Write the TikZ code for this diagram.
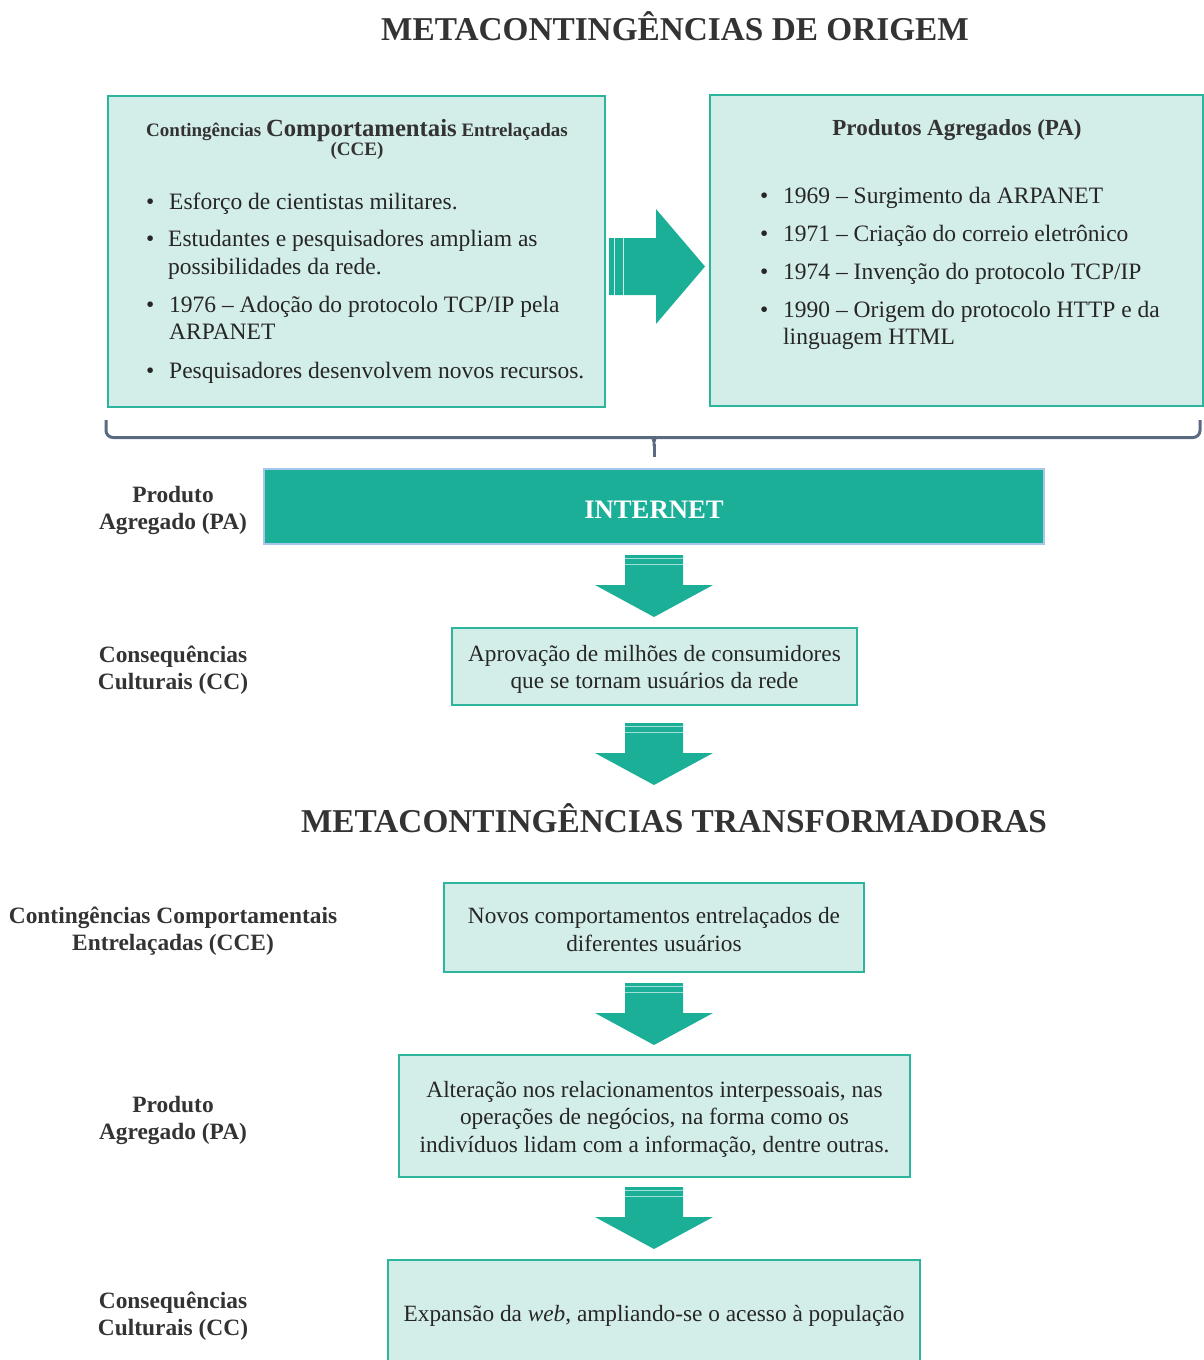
\documentclass[tikz,border=0pt]{standalone}
\usepackage{fontspec}
\setmainfont{Liberation Serif}
\definecolor{tealA}{HTML}{1BAF98}
\definecolor{lightfill}{HTML}{D3EDE9}
\definecolor{boxborder}{HTML}{2DB49C}
\definecolor{txt}{HTML}{262626}
\definecolor{ttl}{HTML}{333333}
\definecolor{bracecol}{HTML}{5A6A80}
\definecolor{inetborder}{HTML}{A9C5EC}
\newcommand\myDownArrow[2]{%
  \fill[tealA] (#1-29,#2) -- (#1+29,#2) -- (#1+29,#2+30) -- (#1+59,#2+30) -- (#1,#2+62) -- (#1-59,#2+30) -- (#1-29,#2+30) -- cycle;
  \draw[white, opacity=0.6, line width=0.8] (#1-29,#2+3) -- (#1+29,#2+3);
  \draw[white, opacity=0.6, line width=0.8] (#1-29,#2+9) -- (#1+29,#2+9);
}
\begin{document}
\begin{tikzpicture}[x=1pt,y=-1pt,
  lbox/.style={draw=boxborder, fill=lightfill, line width=1.8, inner sep=0},
  body/.style={font=\fontsize{23.5}{27}\selectfont, text=txt, align=left, inner sep=0},
  boxlbl/.style={font=\fontsize{23.3}{27.5}\selectfont, text=txt, align=center, inner sep=0},
  sidelabel/.style={font=\bfseries\fontsize{23.4}{27}\selectfont, text=ttl, align=center, inner sep=0},
  bigtitle/.style={font=\bfseries\fontsize{33.3}{38}\selectfont, text=ttl, inner sep=0},
  bul/.style={font=\fontsize{23.5}{27}\selectfont, text=txt, inner sep=0, anchor=base west}
]
\useasboundingbox (0,0) rectangle (1203,1360);

% Titles
\node[bigtitle] (t1) at (675,26) {METACONTINGÊNCIAS DE ORIGEM};
\node[bigtitle] (t2) at (674,818) {METACONTINGÊNCIAS TRANSFORMADORAS};

% Top boxes
\node[lbox, minimum width=497, minimum height=311] (cce) at (356.5,251.5) {};
\node[lbox, minimum width=493, minimum height=311] (pa) at (956.5,250.5) {};

\node[font=\bfseries, text=ttl, align=center, inner sep=0] (cceh) at (357,139.5)
  {\fontsize{19}{25}\selectfont Contingências {\fontsize{24.7}{25}\selectfont Comportamentais} Entrelaçadas\\\fontsize{19}{25}\selectfont (CCE)};

\node[bul] (lb1) at (146,209) {•};
\node[body, anchor=base west] (l1) at (169,209) {Esforço de cientistas militares.};
\node[bul] (lb2) at (146,246) {•};
\node[body, anchor=base west, font=\fontsize{23.5}{28}\selectfont] (l2) at (168,274) {Estudantes e pesquisadores ampliam as\\possibilidades da rede.};
\node[bul] (lb3) at (146,312) {•};
\node[body, anchor=base west] (l3) at (169,339) {1976 – Adoção do protocolo TCP/IP pela\\ARPANET};
\node[bul] (lb4) at (146,378) {•};
\node[body, anchor=base west] (l4) at (169,378) {Pesquisadores desenvolvem novos recursos.};

\node[font=\bfseries\fontsize{23}{27}\selectfont, text=ttl, inner sep=0] (pah) at (957,130) {Produtos Agregados (PA)};
\node[bul] (rb1) at (760,203) {•};
\node[body, anchor=base west] (r1) at (783,203) {1969 – Surgimento da ARPANET};
\node[bul] (rb2) at (760,241) {•};
\node[body, anchor=base west] (r2) at (783,241) {1971 – Criação do correio eletrônico};
\node[bul] (rb3) at (760,279) {•};
\node[body, anchor=base west] (r3) at (783,279) {1974 – Invenção do protocolo TCP/IP};
\node[bul] (rb4) at (760,317) {•};
\node[body, anchor=base west] (r4) at (783,344) {1990 – Origem do protocolo HTTP e da\\linguagem HTML};

% Right block arrow
\fill[tealA] (609,238) -- (656,238) -- (656,209) -- (705,266.5) -- (656,324) -- (656,295) -- (609,295) -- cycle;
\draw[white, opacity=0.8, line width=0.9] (614,238) -- (614,295);
\draw[white, opacity=0.8, line width=0.9] (623,238) -- (623,295);

% Brace
\draw[bracecol, line width=3, rounded corners=7] (106,420) -- (106,437.5) -- (1200,437.5) -- (1200,420);
\draw[bracecol, line width=3] (654,444) -- (654,457);
\fill[bracecol] (646,436) .. controls (652,437) and (653,440) .. (652.5,446) -- (655.5,446) .. controls (655,440) and (656,437) .. (662,436) -- cycle;

% INTERNET
\node[draw=inetborder, fill=tealA, line width=2, minimum width=780, minimum height=75, inner sep=0] (inet) at (654,506.5) {};
\node[font=\bfseries\fontsize{26.7}{28}\selectfont, text=white, inner sep=0] (inett) at ([yshift=-3pt]inet.center) {INTERNET};

% Side labels
\node[sidelabel] (lab1) at (173,510) {Produto\\Agregado (PA)};
\node[sidelabel] (lab2) at (173,670) {Consequências\\Culturais (CC)};
\node[sidelabel] (lab3) at (173,931) {Contingências Comportamentais\\Entrelaçadas (CCE)};
\node[sidelabel] (lab4) at (173,1120) {Produto\\Agregado (PA)};
\node[sidelabel] (lab5) at (173,1316) {Consequências\\Culturais (CC)};

% Boxes
\node[lbox, minimum width=405, minimum height=77] (cc1) at (654.5,666.5) {};
\node[boxlbl] (cc1t) at ([yshift=-3pt]cc1.center) {Aprovação de milhões de consumidores\\que se tornam usuários da rede};
\node[lbox, minimum width=420, minimum height=89] (cce2) at (654,927.5) {};
\node[boxlbl] (cce2t) at ([yshift=-2pt]cce2.center) {Novos comportamentos entrelaçados de\\diferentes usuários};
\node[lbox, minimum width=511, minimum height=122] (pa2) at (654.5,1116) {};
\node[boxlbl] (pa2t) at ([yshift=-3pt]pa2.center) {Alteração nos relacionamentos interpessoais, nas\\operações de negócios, na forma como os\\indivíduos lidam com a informação, dentre outras.};
\node[lbox, minimum width=532, minimum height=108] (cc2) at (654,1314) {};
\node[boxlbl] (cc2t) at ([yshift=-2pt]cc2.center) {Expansão da \emph{web}, ampliando-se o acesso à população};

% Down arrows
\myDownArrow{654}{555}
\myDownArrow{654}{723}
\myDownArrow{654}{983}
\myDownArrow{654}{1187}
\end{tikzpicture}
\end{document}
